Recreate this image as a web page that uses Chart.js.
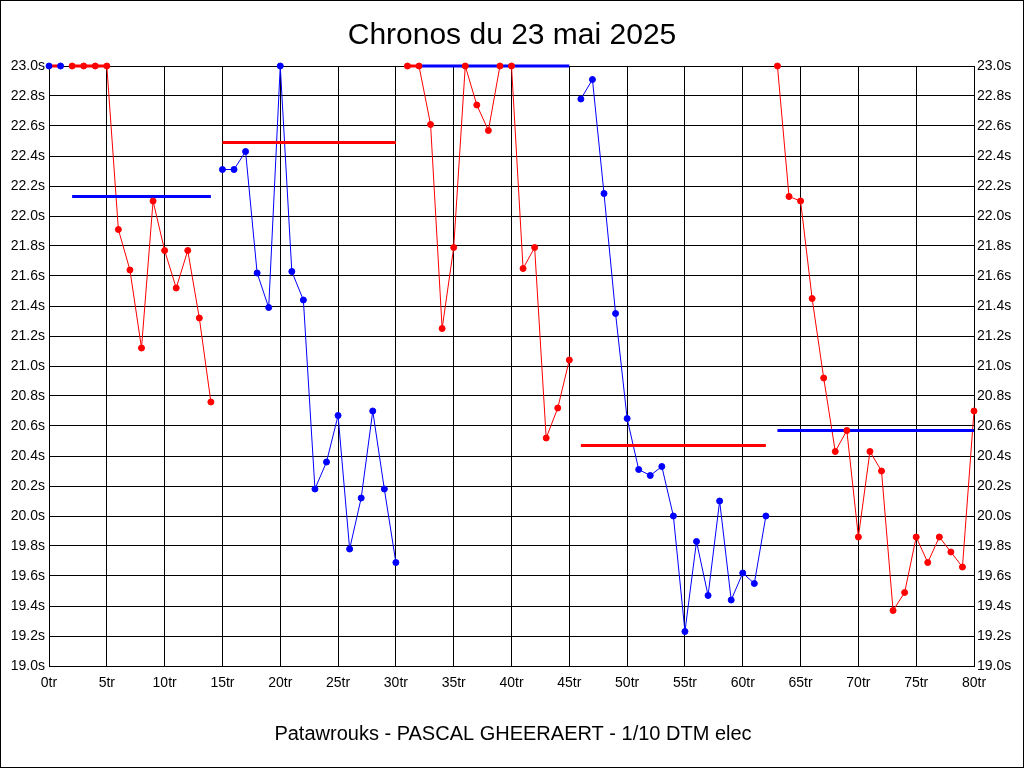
<!DOCTYPE html>
<html>
<head>
<meta charset="utf-8">
<script src="https://cdn.jsdelivr.net/npm/chart.js@4/dist/chart.umd.min.js"></script>
<style>
  html, body { margin: 0; padding: 0; background: #fff; }
  canvas { display: block; }
</style>
</head>
<body>
<canvas id="chronos" width="1024" height="768"></canvas>
<script>
// ── DONNÉES (temps au tour, en secondes) ────────────────────────────────────
// Les temps au-dessus de 23.0s sont plafonnés à 23.0s.
const TITRE  = 'Chronos du 23 mai 2025';
const PILOTE = 'Patawrouks - PASCAL GHEERAERT - 1/10 DTM elec';

const debutsRelais = [0, 2, 15, 31, 46, 63];          // premier tour de chaque relais
const relais1 = [23.0, 23.0];
const relais2 = [23.0, 23.0, 23.0, 23.0, 21.91, 21.64, 21.12, 22.10, 21.77, 21.52, 21.77, 21.32, 20.76];
const relais3 = [22.31, 22.31, 22.43, 21.62, 21.39, 23.0, 21.63, 21.44, 20.18, 20.36, 20.67, 19.78, 20.12, 20.70, 20.18, 19.69];
const relais4 = [23.0, 23.0, 22.61, 21.25, 21.79, 23.0, 22.74, 22.57, 23.0, 23.0, 21.65, 21.79, 20.52, 20.72, 21.04];
const relais5 = [22.78, 22.91, 22.15, 21.35, 20.65, 20.31, 20.27, 20.33, 20.00, 19.23, 19.83, 19.47, 20.10, 19.44, 19.62, 19.55, 20.00];
const relais6 = [23.0, 22.13, 22.10, 21.45, 20.92, 20.43, 20.57, 19.86, 20.43, 20.30, 19.37, 19.49, 19.86, 19.69, 19.86, 19.76, 19.66, 20.70];

// moyennes par relais : [tour début, tour fin, temps moyen]
const moyennes = [
  [0, 1, 23.0],
  [2, 14, 22.13],
  [15, 30, 22.49],
  [32, 45, 23.0],
  [46, 62, 20.47],
  [63, 80, 20.57],
];

// tronçons hors échelle (plafond 23.0s) tracés en trait épais
const horsEchelle = [[2, 5], [31, 32]];

const Y_MIN = 19.0, Y_MAX = 23.0, Y_PAS = 0.2;
const X_MIN = 0, X_MAX = 80, X_PAS = 5;

// ── STYLES ────────────────────────────────────────────────────────────────────
const ROUGE = '#ff0000';
const BLEU  = '#0000ff';
const FONT = "'Liberation Sans', Arial, sans-serif";

// ── DATASETS ──────────────────────────────────────────────────────────────────
const tousRelais = [relais1, relais2, relais3, relais4, relais5, relais6];
const couleurRelais = i => (i % 2 === 0 ? BLEU : ROUGE);

const datasets = [];

tousRelais.forEach((temps, i) => {
  const pts = temps.map((t, k) => ({ x: debutsRelais[i] + k, y: t }));
  // trait fin
  datasets.push({
    data: pts,
    borderColor: couleurRelais(i),
    borderWidth: 1,
    pointRadius: 0,
    tension: 0,
    clip: false,
    order: 3,
  });
  // points par-dessus tout
  datasets.push({
    data: pts,
    showLine: false,
    pointRadius: 3,
    pointBorderWidth: 1,
    pointBackgroundColor: couleurRelais(i),
    pointBorderColor: couleurRelais(i),
    clip: false,
    order: 0,
  });
});

// moyennes : couleur opposée à celle du relais
moyennes.forEach(([de, a, v], i) => {
  datasets.push({
    data: [{ x: de, y: v }, { x: a, y: v }],
    borderColor: i % 2 === 0 ? ROUGE : BLEU,
    borderWidth: 3,
    borderCapStyle: 'butt',
    pointRadius: 0,
    clip: false,
    order: 1,
  });
});

horsEchelle.forEach(([de, a]) => {
  datasets.push({
    data: [{ x: de, y: Y_MAX }, { x: a, y: Y_MAX }],
    borderColor: ROUGE,
    borderWidth: 3,
    borderCapStyle: 'butt',
    pointRadius: 0,
    clip: false,
    order: 2,
  });
});

// ── TEXTES + CADRE ────────────────────────────────────────────────────────────
const cadreTextes = {
  id: 'cadreTextes',
  afterDraw(chart) {
    const c = chart.ctx;
    c.save();
    c.fillStyle = '#000';
    c.textAlign = 'center';
    c.textBaseline = 'alphabetic';
    c.font = '30px ' + FONT;
    c.fillText(TITRE, 512, 44);
    c.font = '20px ' + FONT;
    c.fillText(PILOTE, 513, 740);
    c.strokeStyle = '#000';
    c.lineWidth = 1;
    c.strokeRect(0.5, 0.5, 1023, 767);
    c.restore();
  }
};

const fondBlanc = {
  id: 'fondBlanc',
  beforeDraw(chart) {
    const c = chart.ctx;
    c.save();
    c.fillStyle = '#fff';
    c.fillRect(0, 0, chart.width, chart.height);
    c.restore();
  }
};

const tickY = {
  color: '#000',
  font: { family: FONT, size: 14 },
  stepSize: Y_PAS,
  callback: v => v.toFixed(1) + 's',
};

new Chart(document.getElementById('chronos'), {
  type: 'line',
  data: { datasets },
  plugins: [fondBlanc, cadreTextes],
  options: {
    responsive: false,
    devicePixelRatio: 1,
    animation: false,
    layout: { padding: { top: 66, left: 0, right: 0, bottom: 0 } },
    scales: {
      x: {
        type: 'linear',
        min: X_MIN, max: X_MAX,
        grid: { color: '#000', lineWidth: 1, drawTicks: false },
        border: { color: '#000', width: 1 },
        ticks: {
          stepSize: X_PAS,
          color: '#000',
          padding: 9,
          maxRotation: 0,
          font: { family: FONT, size: 14 },
          callback: v => v + 'tr',
        },
        afterFit: s => { s.height = 102; },
      },
      y: {
        position: 'left',
        min: Y_MIN, max: Y_MAX,
        grid: { color: '#000', lineWidth: 1, drawTicks: false },
        border: { color: '#000', width: 1 },
        ticks: Object.assign({ padding: 4 }, tickY),
        afterFit: s => { s.width = 49; },
      },
      y2: {
        position: 'right',
        min: Y_MIN, max: Y_MAX,
        grid: { drawOnChartArea: false, drawTicks: false },
        border: { color: '#000', width: 1 },
        ticks: Object.assign({ padding: 3 }, tickY),
        afterFit: s => { s.width = 50; },
      },
    },
    plugins: {
      legend: { display: false },
      tooltip: { enabled: false },
      title: { display: false },
    },
  },
});
</script>
</body>
</html>
